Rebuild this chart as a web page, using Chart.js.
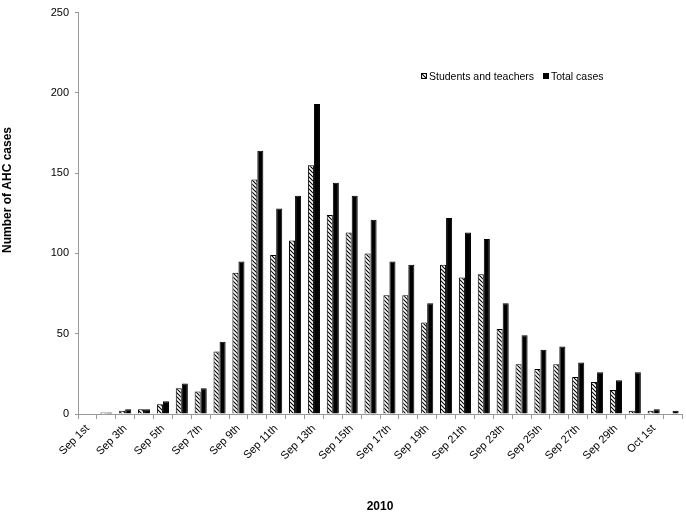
<!DOCTYPE html>
<html>
<head>
<meta charset="utf-8">
<script src="https://cdn.jsdelivr.net/npm/chart.js@4"></script>
<style>
  html, body { margin: 0; padding: 0; background: #fff; }
  #wrap { width: 686px; height: 514px; }
</style>
</head>
<body>
<div id="wrap"><canvas id="ahcChart" width="686" height="514"></canvas></div>
<script>
// days of the outbreak, Sep 1st .. Oct 2nd 2010
const days = [
  "Sep 1st", "Sep 2nd", "Sep 3th", "Sep 4th", "Sep 5th", "Sep 6th", "Sep 7th", "Sep 8th",
  "Sep 9th", "Sep 10th", "Sep 11th", "Sep 12th", "Sep 13th", "Sep 14th", "Sep 15th", "Sep 16th",
  "Sep 17th", "Sep 18th", "Sep 19th", "Sep 20th", "Sep 21th", "Sep 22th", "Sep 23th", "Sep 24th",
  "Sep 25th", "Sep 26th", "Sep 27th", "Sep 28th", "Sep 29th", "Sep 30th", "Oct 1st", "Oct 2nd"
];
const studentsTeachers = [0, 1, 2, 3, 6, 16, 14, 39, 88, 146, 99, 108, 155, 124, 113, 100,
  74, 74, 57, 93, 85, 87, 53, 31, 28, 31, 23, 20, 15, 2, 2, 0];
const totalCases = [0, 1, 3, 3, 8, 19, 16, 45, 95, 164, 128, 136, 193, 144, 136, 121,
  95, 93, 69, 122, 113, 109, 69, 49, 40, 42, 32, 26, 21, 26, 3, 2];
const yTicks = [0, 50, 100, 150, 200, 250];

const FONT = "'Liberation Sans', Arial, sans-serif";

// diagonal hatch like the excel pattern fill
function makeHatch() {
  const c = document.createElement('canvas');
  c.width = 4; c.height = 4;
  const g = c.getContext('2d');
  g.fillStyle = '#fff';
  g.fillRect(0, 0, 4, 4);
  g.strokeStyle = '#000';
  g.lineWidth = 1.1;
  g.beginPath();
  g.moveTo(-1, -1); g.lineTo(5, 5);
  g.moveTo(-1, 3); g.lineTo(1, 5);
  g.moveTo(3, -1); g.lineTo(5, 1);
  g.stroke();
  return g.createPattern(c, 'repeat');
}

const ctx = document.getElementById('ahcChart').getContext('2d');
const hatch = makeHatch();

// legend sits inside the plot and the y title is off centre, so both drawn by hand
const extras = {
  id: 'extras',
  afterDraw(chart) {
    const c = chart.ctx;
    c.save();
    c.font = '10.5px ' + FONT;
    c.textBaseline = 'middle';
    const y = 76;
    const items = [
      { x: 421, text: 'Students and teachers', fill: hatch },
      { x: 543, text: 'Total cases', fill: '#000' }
    ];
    items.forEach(it => {
      c.fillStyle = it.fill;
      c.fillRect(it.x, y - 3, 6, 6);
      c.strokeStyle = '#000';
      c.lineWidth = 1;
      c.strokeRect(it.x + 0.5, y - 2.5, 5, 5);
      c.fillStyle = '#000';
      c.fillText(it.text, it.x + 8, y + 1);
    });

    c.translate(8, 190);
    c.rotate(-Math.PI / 2);
    c.font = 'bold 12px ' + FONT;
    c.textAlign = 'center';
    c.fillText('Number of AHC cases', 0, 0);
    c.restore();
  }
};

const bw = ctx2 => (ctx2.raw === 0 ? 0 : 1);

new Chart(ctx, {
  type: 'bar',
  data: {
    labels: days,
    datasets: [{
      label: 'Students and teachers',
      data: studentsTeachers,
      backgroundColor: hatch,
      borderColor: '#000',
      borderWidth: bw,
      borderSkipped: 'bottom'
    }, {
      label: 'Total cases',
      data: totalCases,
      backgroundColor: '#000',
      borderColor: '#000',
      borderWidth: bw,
      borderSkipped: 'bottom'
    }]
  },
  options: {
    responsive: false,
    animation: false,
    devicePixelRatio: 1,
    layout: { padding: { top: 7, right: 4, left: 0, bottom: 0 } },
    datasets: { bar: { categoryPercentage: 0.64, barPercentage: 1.0 } },
    plugins: {
      legend: { display: false },
      tooltip: { enabled: false }
    },
    scales: {
      x: {
        offset: true,
        grid: { offset: true, drawOnChartArea: false, drawTicks: true, tickLength: 5, color: '#999' },
        border: { color: '#999' },
        ticks: {
          autoSkip: false,
          maxRotation: 45,
          minRotation: 45,
          color: '#000',
          font: { family: FONT, size: 11 },
          callback: (v, i) => (i % 2 === 0 ? days[i] : '')
        },
        title: {
          display: true,
          text: '2010',
          color: '#000',
          font: { family: FONT, size: 12, weight: 'bold' },
          padding: { top: 0, bottom: 0 }
        },
        afterFit: s => { s.height = 100; }
      },
      y: {
        min: 0,
        max: 250,
        afterBuildTicks: s => { s.ticks = yTicks.map(v => ({ value: v })); },
        grid: { drawOnChartArea: false, drawTicks: true, tickLength: 3, color: '#999' },
        border: { color: '#999' },
        ticks: {
          color: '#000',
          padding: 6,
          font: { family: FONT, size: 11 }
        },
        afterFit: s => { s.width = 78; }
      }
    }
  },
  plugins: [extras]
});
</script>
</body>
</html>
